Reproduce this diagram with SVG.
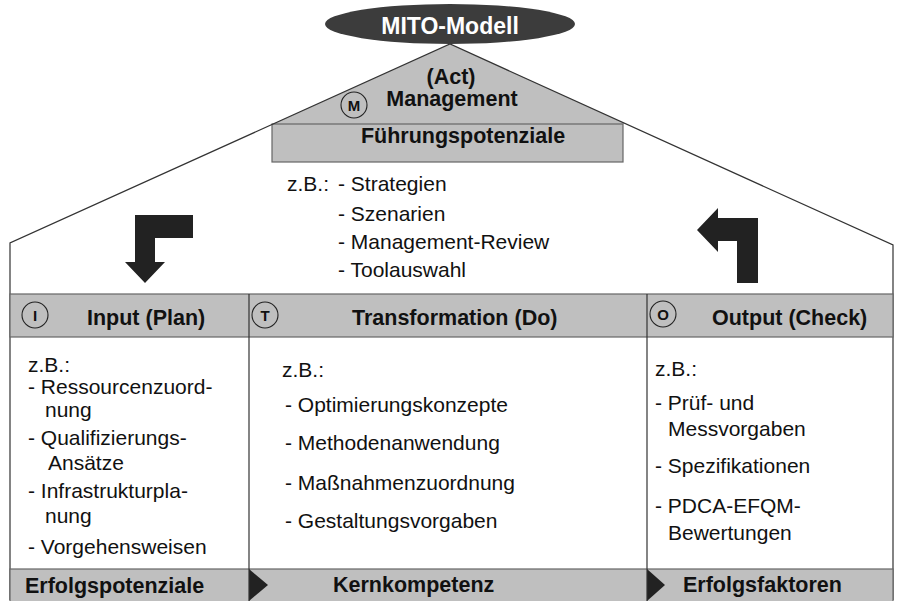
<svg xmlns="http://www.w3.org/2000/svg" width="899" height="601" viewBox="0 0 899 601">
  <style>
    text { font-family: "Liberation Sans", Arial, sans-serif; fill: #111; }
    .b { font-weight: bold; font-size: 21.5px; }
    .r { font-size: 21px; }
    .band { fill: #bfbfbf; stroke: #666; stroke-width: 1.2; }
    .edge { fill: none; stroke: #333; stroke-width: 1.2; }
    .badge { fill: none; stroke: #222; stroke-width: 1.1; }
    .badge-t { font-weight: bold; font-size: 15px; text-anchor: middle; }
    .turn { fill: #222; }
    .notch { fill: #222; }
  </style>

  <rect width="899" height="601" fill="#fff"/>

  <!-- roof: gray management gable -->
  <g id="management">
    <polygon points="450,44 273,124 626,124" fill="#bfbfbf"/>
    <rect x="272" y="124" width="351" height="38" class="band"/>
    <circle cx="354" cy="105" r="13" class="badge"/>
    <text x="354" y="110.5" class="badge-t">M</text>
    <text x="451" y="84" class="b" text-anchor="middle">(Act)</text>
    <text x="452" y="106" class="b" text-anchor="middle">Management</text>
    <text x="463" y="143" class="b" text-anchor="middle">Führungspotenziale</text>
  </g>

  <!-- house outline -->
  <g id="house">
    <polyline points="10,600 10,243 450,44 893,245 893,600" class="edge"/>
  </g>

  <!-- title badge -->
  <g id="title">
    <ellipse cx="450" cy="24" rx="125" ry="20" fill="#3c3c3c"/>
    <text x="450" y="34" text-anchor="middle" style="fill:#fff;font-size:23px;font-weight:bold">MITO-Modell</text>
  </g>

  <!-- management examples -->
  <g id="management-examples">
    <text x="287" y="191" class="r">z.B.:</text>
    <text x="338" y="191" class="r">- Strategien</text>
    <text x="338" y="221" class="r">- Szenarien</text>
    <text x="338" y="249" class="r">- Management-Review</text>
    <text x="338" y="277" class="r">- Toolauswahl</text>
  </g>

  <!-- cycle arrows -->
  <g id="connectors">
    <polygon class="turn" points="135,215 193,215 193,238 155,238 155,262 165,262 145,283 125,262 135,262"/>
    <polygon class="turn" points="758,218 758,283 737,283 737,241 718,241 718,252 697,230 718,208 718,218"/>
  </g>

  <!-- header band -->
  <g id="header-band">
    <rect x="10" y="294" width="883" height="43" class="band"/>
  </g>

  <!-- bottom band -->
  <g id="footer-band">
    <rect x="10" y="569" width="883" height="34" class="band"/>
    <polygon class="notch" points="249,569 268,585 249,601"/>
    <polygon class="notch" points="647,569 665,585 647,601"/>
  </g>

  <!-- column dividers -->
  <g id="dividers">
    <line x1="249" y1="294" x2="249" y2="601" class="edge"/>
    <line x1="647" y1="294" x2="647" y2="601" class="edge"/>
  </g>

  <!-- Input column -->
  <g id="input">
    <circle cx="35" cy="315" r="13" class="badge"/>
    <text x="35" y="320.5" class="badge-t">I</text>
    <text x="87" y="325" class="b">Input (Plan)</text>
    <text x="28" y="372" class="r">z.B.:</text>
    <text x="28" y="394" class="r">- Ressourcenzuord-</text>
    <text x="45" y="417" class="r">nung</text>
    <text x="28" y="445" class="r">- Qualifizierungs-</text>
    <text x="48" y="470" class="r">Ansätze</text>
    <text x="28" y="498" class="r">- Infrastrukturpla-</text>
    <text x="45" y="523" class="r">nung</text>
    <text x="28" y="554" class="r">- Vorgehensweisen</text>
    <text x="25" y="593" class="b">Erfolgspotenziale</text>
  </g>

  <!-- Transformation column -->
  <g id="transformation">
    <circle cx="265" cy="315" r="13" class="badge"/>
    <text x="265" y="320.5" class="badge-t">T</text>
    <text x="352" y="325" class="b">Transformation (Do)</text>
    <text x="282" y="377" class="r">z.B.:</text>
    <text x="285" y="412" class="r">- Optimierungskonzepte</text>
    <text x="285" y="450" class="r">- Methodenanwendung</text>
    <text x="285" y="490" class="r">- Maßnahmenzuordnung</text>
    <text x="285" y="528" class="r">- Gestaltungsvorgaben</text>
    <text x="333" y="592" class="b">Kernkompetenz</text>
  </g>

  <!-- Output column -->
  <g id="output">
    <circle cx="663" cy="314" r="13" class="badge"/>
    <text x="663" y="319.5" class="badge-t">O</text>
    <text x="712" y="325" class="b">Output (Check)</text>
    <text x="655" y="376" class="r">z.B.:</text>
    <text x="655" y="410" class="r">- Prüf- und</text>
    <text x="668" y="436" class="r">Messvorgaben</text>
    <text x="655" y="473" class="r">- Spezifikationen</text>
    <text x="655" y="513" class="r">- PDCA-EFQM-</text>
    <text x="668" y="540" class="r">Bewertungen</text>
    <text x="683" y="592" class="b">Erfolgsfaktoren</text>
  </g>
</svg>
